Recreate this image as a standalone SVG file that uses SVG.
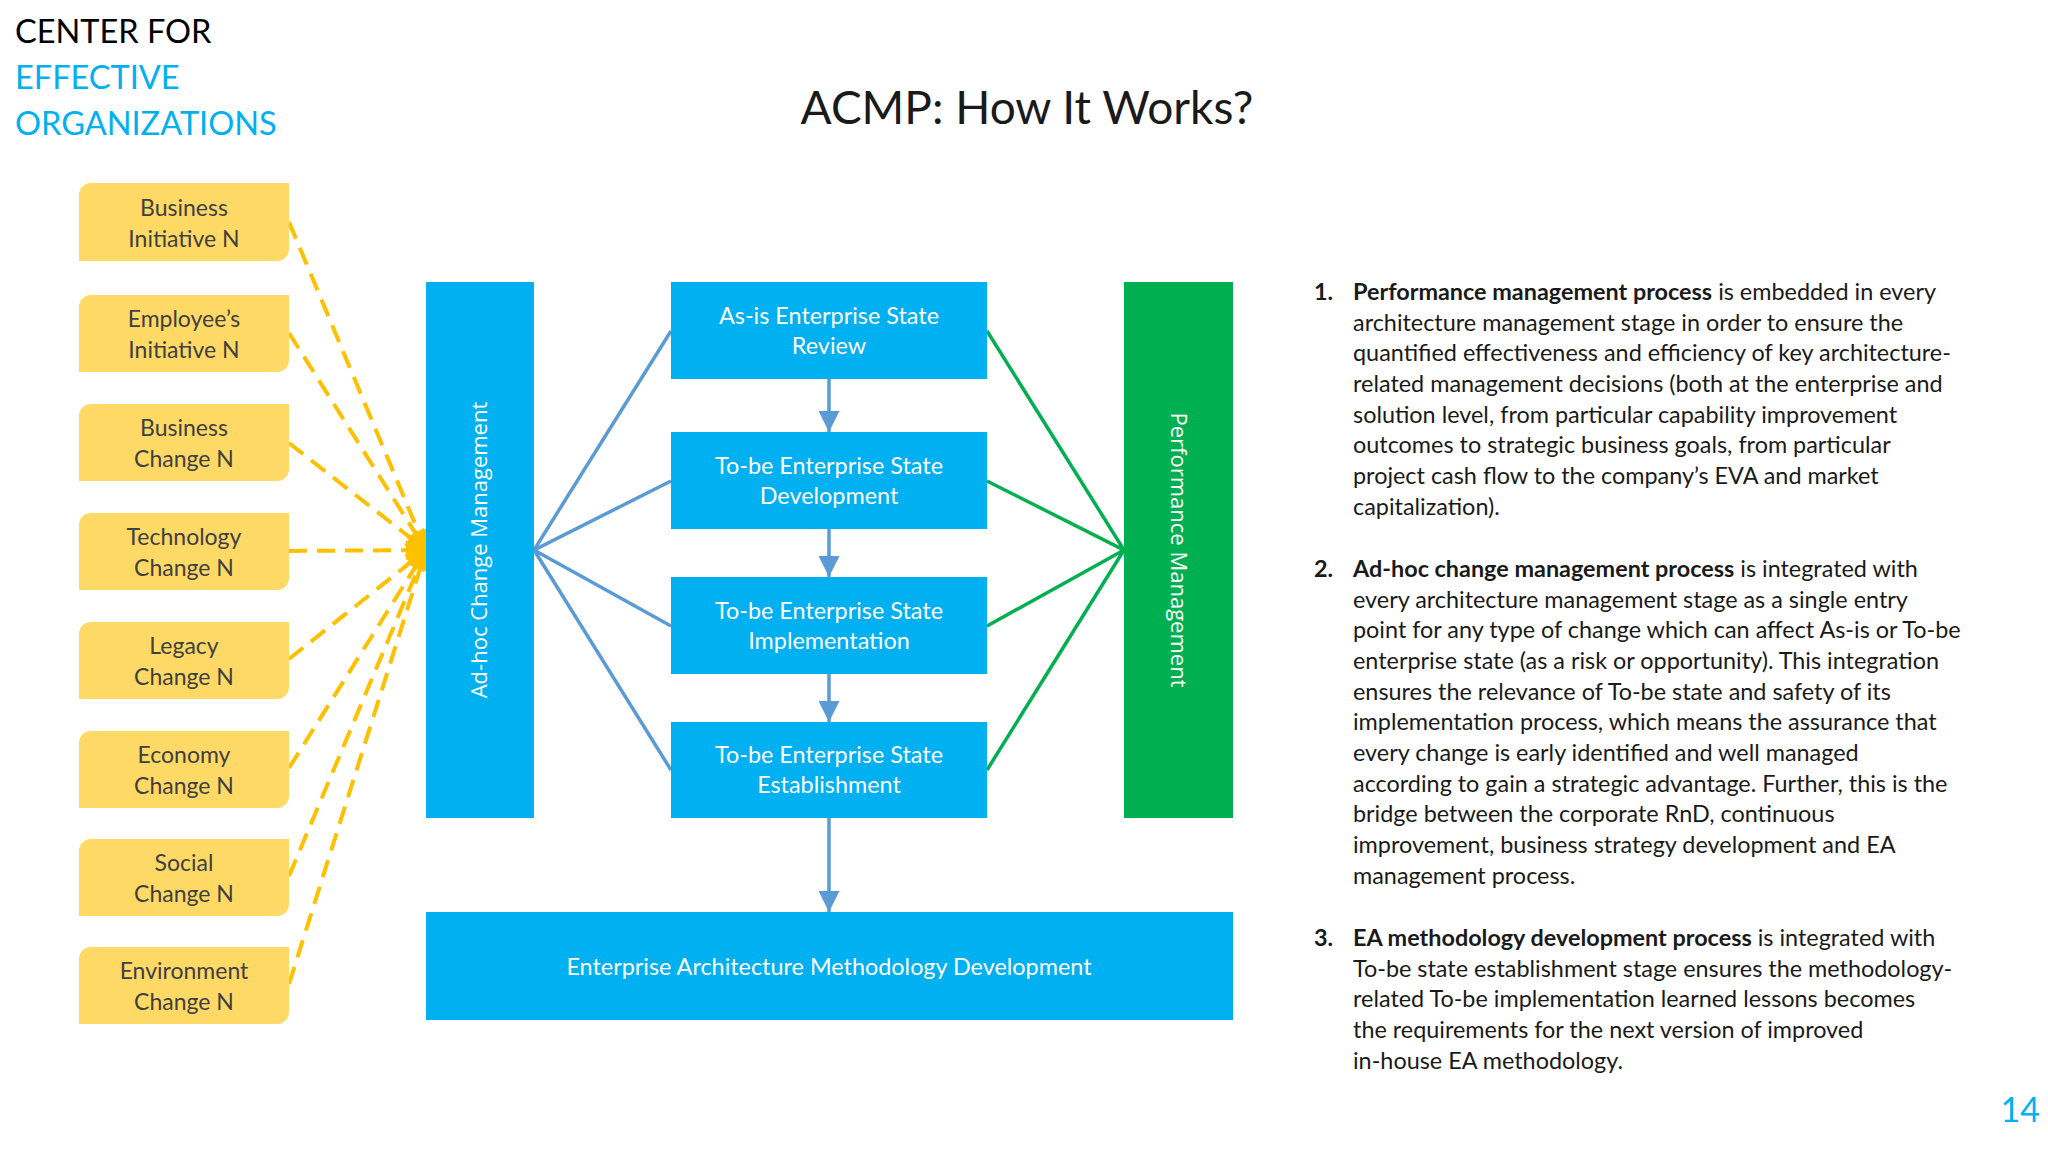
<svg xmlns="http://www.w3.org/2000/svg" width="2048" height="1152" viewBox="0 0 2048 1152">
<defs>
<style>
.src{fill:#FFD966}
.srct{font-family:Lato,"Liberation Sans",sans-serif;font-size:23px;fill:#404040;text-anchor:middle}
.blue{fill:#00B0F0}
.green{fill:#00B050}
.wt{font-family:Lato,"Liberation Sans",sans-serif;font-size:23.4px;fill:#ffffff;text-anchor:middle}
.vt{font-family:"Open Sans","Noto Sans",sans-serif;font-size:22px;fill:#ffffff;text-anchor:middle}
.dash{fill:none;stroke:#FFC000;stroke-width:4;stroke-dasharray:18 10;marker-end:url(#ya)}
.bl{stroke:#5B9BD5;stroke-width:3.5;fill:none}
.gl{stroke:#00B050;stroke-width:3.5;fill:none}
.arr{stroke:#5B9BD5;stroke-width:3.5;fill:none;marker-end:url(#ba)}
.body{font-family:Lato,"Liberation Sans",sans-serif;font-size:23.4px;fill:#1a1a1a}
.b{font-weight:bold}
</style>
<marker id="ya" viewBox="0 0 10 10" refX="10" refY="5" markerWidth="5.5" markerHeight="5" markerUnits="strokeWidth" orient="auto">
<path d="M0,0 L10,5 L0,10 Z" fill="#FFC000"/>
</marker>
<marker id="ba" viewBox="0 0 10 10" refX="10" refY="5" markerWidth="6" markerHeight="6" markerUnits="strokeWidth" orient="auto">
<path d="M0,0 L10,5 L0,10 Z" fill="#5B9BD5"/>
</marker>
</defs>
<rect width="2048" height="1152" fill="#ffffff"/>

<g id="header" font-family="Lato,'Liberation Sans',sans-serif" font-size="32.5">
<text x="15" y="43" fill="#000000">CENTER FOR</text>
<text x="15" y="89" fill="#00B0F0">EFFECTIVE</text>
<text x="15" y="135" fill="#00B0F0">ORGANIZATIONS</text>
</g>
<text id="title" x="1027" y="124" font-family="Lato,'Liberation Sans',sans-serif" font-size="46" fill="#1a1a1a" text-anchor="middle">ACMP: How It Works?</text>

<g id="connectors">
<path class="dash" d="M289,222 L426,550"/>
<path class="dash" d="M289,333 L426,550"/>
<path class="dash" d="M289,443 L426,550"/>
<path class="dash" d="M289,659 L426,550"/>
<path class="dash" d="M289,768 L426,550"/>
<path class="dash" d="M289,876 L426,550"/>
<path class="dash" d="M289,984 L426,550"/>
<path class="dash" d="M289,551 L426,550"/>
<path class="bl" d="M671,331 L534,550 L671,481 M671,626 L534,550 L671,770"/>
<path class="gl" d="M987,331 L1124,550 L987,481 M987,626 L1124,550 L987,770"/>
<path class="arr" d="M829,379 L829,432"/>
<path class="arr" d="M829,529 L829,577"/>
<path class="arr" d="M829,674 L829,722"/>
<path class="arr" d="M829,818 L829,912"/>
</g>

<g id="n-business-initiative"><path class="src" d="M91,183 H289 V249 A12,12 0 0 1 277,261 H79 V195 A12,12 0 0 1 91,183 Z"/><text class="srct" x="184" y="216">Business</text><text class="srct" x="184" y="247">Initiative N</text></g>
<g id="n-employee-initiative"><path class="src" d="M91,295 H289 V360 A12,12 0 0 1 277,372 H79 V307 A12,12 0 0 1 91,295 Z"/><text class="srct" x="184" y="327">Employee’s</text><text class="srct" x="184" y="358">Initiative N</text></g>
<g id="n-business-change"><path class="src" d="M91,404 H289 V469 A12,12 0 0 1 277,481 H79 V416 A12,12 0 0 1 91,404 Z"/><text class="srct" x="184" y="436">Business</text><text class="srct" x="184" y="467">Change N</text></g>
<g id="n-technology-change"><path class="src" d="M91,513 H289 V578 A12,12 0 0 1 277,590 H79 V525 A12,12 0 0 1 91,513 Z"/><text class="srct" x="184" y="545">Technology</text><text class="srct" x="184" y="576">Change N</text></g>
<g id="n-legacy-change"><path class="src" d="M91,622 H289 V687 A12,12 0 0 1 277,699 H79 V634 A12,12 0 0 1 91,622 Z"/><text class="srct" x="184" y="654">Legacy</text><text class="srct" x="184" y="685">Change N</text></g>
<g id="n-economy-change"><path class="src" d="M91,731 H289 V796 A12,12 0 0 1 277,808 H79 V743 A12,12 0 0 1 91,731 Z"/><text class="srct" x="184" y="763">Economy</text><text class="srct" x="184" y="794">Change N</text></g>
<g id="n-social-change"><path class="src" d="M91,839 H289 V904 A12,12 0 0 1 277,916 H79 V851 A12,12 0 0 1 91,839 Z"/><text class="srct" x="184" y="871">Social</text><text class="srct" x="184" y="902">Change N</text></g>
<g id="n-environment-change"><path class="src" d="M91,947 H289 V1012 A12,12 0 0 1 277,1024 H79 V959 A12,12 0 0 1 91,947 Z"/><text class="srct" x="184" y="979">Environment</text><text class="srct" x="184" y="1010">Change N</text></g>

<g id="n-adhoc"><rect class="blue" x="426" y="282" width="108" height="536"/><text class="vt" transform="translate(487,550) rotate(-90)">Ad-hoc Change Management</text></g>
<g id="n-asis"><rect class="blue" x="671" y="282" width="316" height="97"/><text class="wt" x="829" y="324">As-is Enterprise State</text><text class="wt" x="829" y="354">Review</text></g>
<g id="n-tobe-dev"><rect class="blue" x="671" y="432" width="316" height="97"/><text class="wt" x="829" y="474">To-be Enterprise State</text><text class="wt" x="829" y="504">Development</text></g>
<g id="n-tobe-impl"><rect class="blue" x="671" y="577" width="316" height="97"/><text class="wt" x="829" y="619">To-be Enterprise State</text><text class="wt" x="829" y="649">Implementation</text></g>
<g id="n-tobe-est"><rect class="blue" x="671" y="722" width="316" height="96"/><text class="wt" x="829" y="763">To-be Enterprise State</text><text class="wt" x="829" y="793">Establishment</text></g>
<g id="n-performance"><rect class="green" x="1124" y="282" width="109" height="536"/><text class="vt" transform="translate(1171,550) rotate(90)">Performance Management</text></g>
<g id="n-ea-method"><rect class="blue" x="426" y="912" width="807" height="108"/><text class="wt" x="829" y="975">Enterprise Architecture Methodology Development</text></g>

<g id="notes" class="body">
<text x="1314" y="300"><tspan class="b">1.</tspan><tspan x="1353" class="b">Performance management process</tspan> is embedded in every</text>
<text x="1353" y="331">architecture management stage in order to ensure the</text>
<text x="1353" y="361">quantified effectiveness and efficiency of key architecture-</text>
<text x="1353" y="392">related management decisions (both at the enterprise and</text>
<text x="1353" y="423">solution level, from particular capability improvement</text>
<text x="1353" y="453">outcomes to strategic business goals, from particular</text>
<text x="1353" y="484">project cash flow to the company’s EVA and market</text>
<text x="1353" y="515">capitalization).</text>

<text x="1314" y="577"><tspan class="b">2.</tspan><tspan x="1353" class="b">Ad-hoc change management process</tspan> is integrated with</text>
<text x="1353" y="608">every architecture management stage as a single entry</text>
<text x="1353" y="638">point for any type of change which can affect As-is or To-be</text>
<text x="1353" y="669">enterprise state (as a risk or opportunity). This integration</text>
<text x="1353" y="700">ensures the relevance of To-be state and safety of its</text>
<text x="1353" y="730">implementation process, which means the assurance that</text>
<text x="1353" y="761">every change is early identified and well managed</text>
<text x="1353" y="792">according to gain a strategic advantage. Further, this is the</text>
<text x="1353" y="822">bridge between the corporate RnD, continuous</text>
<text x="1353" y="853">improvement, business strategy development and EA</text>
<text x="1353" y="884">management process.</text>

<text x="1314" y="946"><tspan class="b">3.</tspan><tspan x="1353" class="b">EA methodology development process</tspan> is integrated with</text>
<text x="1353" y="977">To-be state establishment stage ensures the methodology-</text>
<text x="1353" y="1007">related To-be implementation learned lessons becomes</text>
<text x="1353" y="1038">the requirements for the next version of improved</text>
<text x="1353" y="1069">in-house EA methodology.</text>
</g>
<text id="page-number" x="2040" y="1122" font-family="Lato,'Liberation Sans',sans-serif" font-size="34" fill="#00B0F0" text-anchor="end">14</text>
</svg>
